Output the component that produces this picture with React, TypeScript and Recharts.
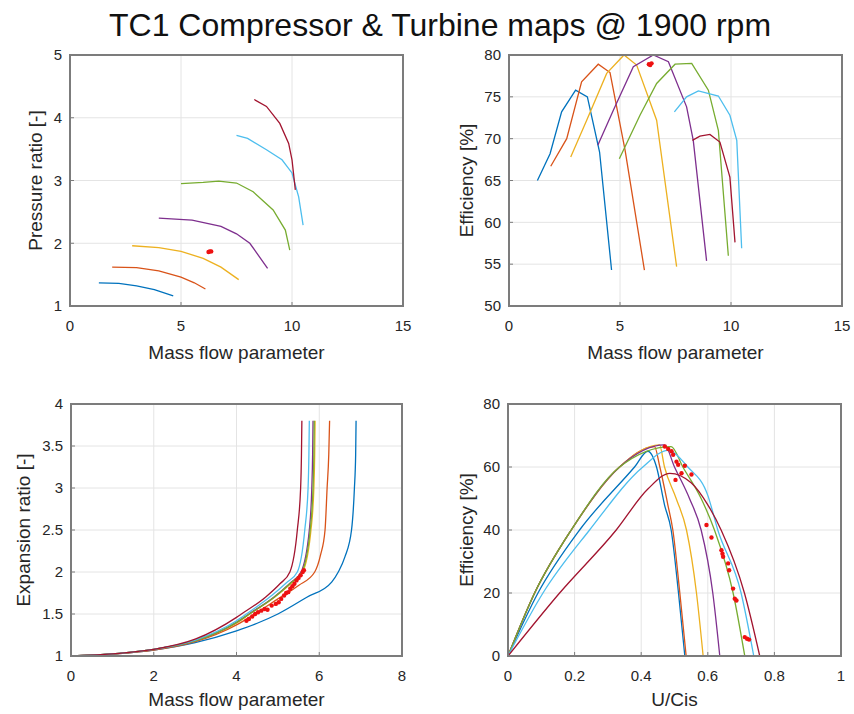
import { ComposedChart, Line, XAxis, YAxis, CartesianGrid } from 'recharts';

type Pt = [number, number];

const TITLE = 'TC1 Compressor & Turbine maps @ 1900 rpm';

// compressor map, pressure ratio vs mass flow parameter (one line per speed)
const prLine1: Pt[] = [[1.3, 1.37], [2.2, 1.36], [3.0, 1.32], [3.8, 1.26], [4.65, 1.16]];
const prLine2: Pt[] = [[1.9, 1.62], [3.0, 1.61], [4.0, 1.56], [5.0, 1.46], [5.6, 1.37], [6.1, 1.27]];
const prLine3: Pt[] = [[2.8, 1.96], [4.0, 1.93], [5.0, 1.87], [6.0, 1.76], [6.8, 1.62], [7.6, 1.42]];
const prLine4: Pt[] = [[4.0, 2.4], [5.5, 2.37], [6.8, 2.27], [7.5, 2.15], [8.1, 2.0], [8.9, 1.6]];
const prLine5: Pt[] = [[5.0, 2.95], [6.0, 2.97], [6.7, 2.99], [7.5, 2.96], [8.25, 2.82], [9.15, 2.53], [9.7, 2.21], [9.9, 1.89]];
const prLine6: Pt[] = [[7.5, 3.72], [8.0, 3.67], [8.85, 3.49], [9.55, 3.33], [10.0, 3.12], [10.3, 2.74], [10.5, 2.29]];
const prLine7: Pt[] = [[8.3, 4.29], [8.85, 4.18], [9.45, 3.91], [9.85, 3.59], [10.0, 3.33], [10.15, 2.85]];
const prMeas: Pt[] = [[6.24, 1.86], [6.3, 1.87], [6.36, 1.87]];

// compressor efficiency
const ceLine1: Pt[] = [[1.28, 65.0], [1.85, 68.2], [2.37, 73.2], [3.0, 75.8], [3.53, 75.0], [4.08, 68.4], [4.62, 54.3]];
const ceLine2: Pt[] = [[1.88, 66.7], [2.6, 70.0], [3.27, 76.8], [4.02, 78.9], [4.55, 77.9], [5.23, 68.6], [6.1, 54.3]];
const ceLine3: Pt[] = [[2.78, 67.8], [3.5, 72.2], [4.4, 77.8], [5.18, 80.0], [5.75, 78.8], [6.65, 72.2], [7.55, 54.7]];
const ceLine4: Pt[] = [[4.0, 69.2], [4.7, 73.4], [5.6, 78.6], [6.5, 80.0], [7.18, 79.2], [8.0, 73.8], [8.3, 69.8], [8.9, 55.4]];
const ceLine5: Pt[] = [[4.97, 67.6], [5.9, 72.8], [6.65, 76.6], [7.48, 78.9], [8.23, 79.0], [8.98, 75.8], [9.43, 71.0], [9.88, 56.0]];
const ceLine6: Pt[] = [[7.45, 73.2], [8.0, 75.0], [8.53, 75.7], [9.43, 75.1], [9.95, 72.8], [10.26, 69.8], [10.48, 56.9]];
const ceLine7: Pt[] = [[8.26, 69.8], [8.6, 70.3], [9.05, 70.5], [9.5, 69.6], [9.95, 65.4], [10.18, 57.6]];
const ceMeas: Pt[] = [[6.3, 78.9], [6.36, 78.8], [6.42, 79.0]];

// turbine expansion ratio vs mass flow parameter
const erLine1: Pt[] = [[0, 1], [2, 1.07], [3, 1.16], [4, 1.3], [4.5, 1.39], [5, 1.5], [5.7, 1.7], [6.3, 1.88], [6.46, 2.0], [6.62, 2.18], [6.78, 2.5], [6.85, 3.0], [6.88, 3.4], [6.89, 3.8]];
const erLine2: Pt[] = [[0, 1], [2, 1.07], [3, 1.17], [4, 1.37], [4.44, 1.5], [5.0, 1.68], [5.5, 1.84], [5.89, 2.0], [6.03, 2.2], [6.14, 2.5], [6.19, 3.0], [6.23, 3.4], [6.25, 3.8]];
const erLine3: Pt[] = [[0, 1], [2, 1.08], [3, 1.18], [4, 1.39], [4.32, 1.5], [4.92, 1.7], [5.33, 1.87], [5.6, 2.0], [5.8, 2.5], [5.87, 3.0], [5.89, 3.4], [5.9, 3.8]];
const erLine4: Pt[] = [[0, 1], [2, 1.08], [3, 1.18], [4, 1.4], [4.3, 1.5], [4.9, 1.7], [5.3, 1.87], [5.56, 2.0], [5.76, 2.5], [5.82, 3.0], [5.84, 3.4], [5.85, 3.8]];
const erLine5: Pt[] = [[0, 1], [2, 1.08], [3, 1.18], [4, 1.4], [4.31, 1.5], [4.91, 1.7], [5.31, 1.87], [5.58, 2.0], [5.78, 2.5], [5.85, 3.0], [5.87, 3.4], [5.88, 3.8]];
const erLine6: Pt[] = [[0, 1], [2, 1.08], [3, 1.19], [4, 1.42], [4.24, 1.5], [4.85, 1.72], [5.2, 1.87], [5.47, 2.0], [5.65, 2.5], [5.73, 3.0], [5.75, 3.4], [5.76, 3.8]];
const erLine7: Pt[] = [[0, 1], [2, 1.08], [3, 1.2], [4, 1.46], [4.12, 1.5], [4.7, 1.7], [5.05, 1.86], [5.29, 2.0], [5.47, 2.5], [5.55, 3.0], [5.57, 3.4], [5.58, 3.8]];
const erMeas: Pt[] = [
  [4.24, 1.42], [4.3, 1.44], [4.38, 1.47], [4.45, 1.5], [4.52, 1.52], [4.6, 1.54], [4.68, 1.56], [4.75, 1.55],
  [4.85, 1.6], [4.95, 1.62], [5.02, 1.64], [5.08, 1.68], [5.15, 1.72], [5.2, 1.75], [5.25, 1.76], [5.3, 1.8],
  [5.35, 1.83], [5.4, 1.86], [5.45, 1.9], [5.5, 1.93], [5.55, 1.96], [5.6, 2.0], [5.63, 2.02],
];

// turbine efficiency vs U/Cis
const teLine1: Pt[] = [[0, 0], [0.09, 20], [0.215, 40], [0.38, 60], [0.42, 65], [0.446, 60], [0.47, 48], [0.49, 40], [0.512, 20], [0.531, 0]];
const teLine2: Pt[] = [[0, 0], [0.08, 20], [0.19, 40], [0.335, 60], [0.44, 66.5], [0.456, 60], [0.48, 48], [0.495, 40], [0.516, 20], [0.535, 0]];
const teLine3: Pt[] = [[0, 0], [0.08, 20], [0.19, 40], [0.335, 60], [0.455, 67], [0.47, 60], [0.505, 50], [0.536, 40], [0.566, 20], [0.586, 0]];
const teLine4: Pt[] = [[0, 0], [0.08, 20], [0.19, 40], [0.335, 60], [0.47, 67], [0.5, 60], [0.545, 50], [0.58, 40], [0.615, 20], [0.636, 0]];
const teLine5: Pt[] = [[0, 0], [0.08, 20], [0.19, 40], [0.335, 60], [0.49, 66.5], [0.525, 60], [0.58, 50], [0.62, 40], [0.676, 20], [0.711, 0]];
const teLine6: Pt[] = [[0, 0], [0.105, 20], [0.245, 40], [0.405, 60], [0.48, 65.3], [0.54, 60], [0.6, 51], [0.63, 40], [0.7, 20], [0.738, 0]];
const teLine7: Pt[] = [[0, 0], [0.155, 20], [0.325, 40], [0.42, 53], [0.486, 58], [0.55, 55], [0.6, 48], [0.64, 40], [0.71, 20], [0.756, 0]];
const teMeas: Pt[] = [
  [0.471, 66.5], [0.481, 65.7], [0.491, 65.0], [0.496, 63.9], [0.506, 61.7], [0.511, 60.7], [0.521, 58.0],
  [0.531, 60.4], [0.551, 57.6], [0.503, 55.9], [0.596, 41.6], [0.611, 37.6], [0.641, 33.6], [0.644, 32.5],
  [0.646, 31.5], [0.661, 29.4], [0.664, 27.2], [0.676, 21.4], [0.681, 18.2], [0.686, 17.6], [0.711, 6.0],
  [0.718, 5.5], [0.724, 5.2],
];

const compFlowTicks = [0, 5, 10, 15];
const prTicks = [1, 2, 3, 4, 5];
const ceTicks = [50, 55, 60, 65, 70, 75, 80];
const turbFlowTicks = [0, 2, 4, 6, 8];
const erTicks = [1, 1.5, 2, 2.5, 3, 3.5, 4];
const ucTicks = [0, 0.2, 0.4, 0.6, 0.8, 1];
const teTicks = [0, 20, 40, 60, 80];

const COLORS = ['#0072BD', '#D95319', '#EDB120', '#7E2F8E', '#77AC30', '#4DBEEE', '#A2142F'];
const W = 854;
const H = 714;
const BOX = '#7c7c7c';
const TXT = '#262626';

const pts = (a: Pt[]) => a.map(([x, y]) => ({ x, y }));

interface PanelProps {
  left: number; top: number; width: number; height: number;
  yw: number; xh: number; xLabelOffset: number; yLabelX: number;
  xDomain: [number, number]; yDomain: [number, number];
  xTicks: number[]; yTicks: number[];
  lines: Pt[][]; meas: Pt[];
  xLabel: string; yLabel: string;
  curve: 'linear' | 'monotone';
}

function Panel(p: PanelProps) {
  const margin = {
    top: p.top - 1,
    left: p.left - p.yw,
    right: W - p.left - p.width - 1,
    bottom: H - p.top - p.height - p.xh,
  };
  return (
    <>
      <div style={{ position: 'absolute', left: 0, top: 0 }}>
        <ComposedChart width={W} height={H} margin={margin}>
          <CartesianGrid stroke="#e4e4e4" />
          <XAxis
            dataKey="x" type="number" domain={p.xDomain} ticks={p.xTicks} interval={0}
            height={p.xh} tickSize={-4} tickMargin={18}
            axisLine={{ stroke: BOX, strokeWidth: 1.5 }} tickLine={{ stroke: BOX }}
            tick={{ fill: TXT, fontSize: 15 }}
            label={{ value: p.xLabel, position: 'insideBottom', offset: p.xLabelOffset, fill: TXT, fontSize: 19 }}
          />
          <XAxis
            xAxisId="top" orientation="top" type="number" domain={p.xDomain} ticks={p.xTicks} interval={0}
            height={1} tickSize={-4} tick={false}
            axisLine={{ stroke: BOX, strokeWidth: 1.5 }} tickLine={{ stroke: BOX }}
          />
          <YAxis
            type="number" domain={p.yDomain} ticks={p.yTicks} interval={0}
            width={p.yw} tickSize={-4} tickMargin={12}
            axisLine={{ stroke: BOX, strokeWidth: 1.5 }} tickLine={{ stroke: BOX }}
            tick={{ fill: TXT, fontSize: 15 }}
            label={{
              value: p.yLabel, angle: -90, position: 'insideLeft', offset: p.yLabelX - margin.left,
              fill: TXT, fontSize: 19, style: { textAnchor: 'middle' },
            }}
          />
          <YAxis
            yAxisId="right" orientation="right" type="number" domain={p.yDomain} ticks={p.yTicks} interval={0}
            width={1} tickSize={-4} tick={false}
            axisLine={{ stroke: BOX, strokeWidth: 1.5 }} tickLine={{ stroke: BOX }}
          />
          {p.lines.map((l, i) => (
            <Line
              key={i} data={pts(l)} dataKey="y" type={p.curve} stroke={COLORS[i]} strokeWidth={1.3}
              dot={false} activeDot={false} isAnimationActive={false}
            />
          ))}
          <Line
            data={pts(p.meas)} dataKey="y" stroke="none" activeDot={false}
            dot={{ r: 2.2, fill: '#ee1111', stroke: 'none' }} isAnimationActive={false}
          />
        </ComposedChart>
      </div>
      {/* axes box, same rect as the plot area given to the chart above */}
      <div style={{
        position: 'absolute', left: p.left - 1, top: p.top - 1, width: p.width + 2, height: p.height + 2,
        border: `2px solid ${BOX}`, boxSizing: 'border-box', pointerEvents: 'none',
      }} />
    </>
  );
}

export default function App() {
  return (
    <div style={{
      position: 'absolute', left: 0, top: 0, width: W, height: H, background: '#fff',
      fontFamily: '"Liberation Sans", Arial, sans-serif', overflow: 'hidden',
    }}>
      <div style={{
        position: 'absolute', left: 0, top: 7, width: 880, textAlign: 'center',
        fontSize: 32, lineHeight: '36px', color: '#111', whiteSpace: 'nowrap',
      }}>
        {TITLE}
      </div>
      <Panel
        left={70} top={55} width={333} height={251} yw={70} xh={60} xLabelOffset={7} yLabelX={35}
        xDomain={[0, 15]} yDomain={[1, 5]} xTicks={compFlowTicks} yTicks={prTicks}
        lines={[prLine1, prLine2, prLine3, prLine4, prLine5, prLine6, prLine7]} meas={prMeas}
        xLabel="Mass flow parameter" yLabel="Pressure ratio [-]" curve="linear"
      />
      <Panel
        left={509} top={55} width={333} height={251} yw={79} xh={60} xLabelOffset={7} yLabelX={466}
        xDomain={[0, 15]} yDomain={[50, 80]} xTicks={compFlowTicks} yTicks={ceTicks}
        lines={[ceLine1, ceLine2, ceLine3, ceLine4, ceLine5, ceLine6, ceLine7]} meas={ceMeas}
        xLabel="Mass flow parameter" yLabel="Efficiency [%]" curve="linear"
      />
      <Panel
        left={71} top={404} width={331} height={252} yw={71} xh={56} xLabelOffset={6} yLabelX={23}
        xDomain={[0, 8]} yDomain={[1, 4]} xTicks={turbFlowTicks} yTicks={erTicks}
        lines={[erLine1, erLine2, erLine3, erLine4, erLine5, erLine6, erLine7]} meas={erMeas}
        xLabel="Mass flow parameter" yLabel="Expansion ratio [-]" curve="monotone"
      />
      <Panel
        left={508} top={404} width={333} height={252} yw={78} xh={56} xLabelOffset={6} yLabelX={466}
        xDomain={[0, 1]} yDomain={[0, 80]} xTicks={ucTicks} yTicks={teTicks}
        lines={[teLine1, teLine2, teLine3, teLine4, teLine5, teLine6, teLine7]} meas={teMeas}
        xLabel="U/Cis" yLabel="Efficiency [%]" curve="monotone"
      />
    </div>
  );
}
